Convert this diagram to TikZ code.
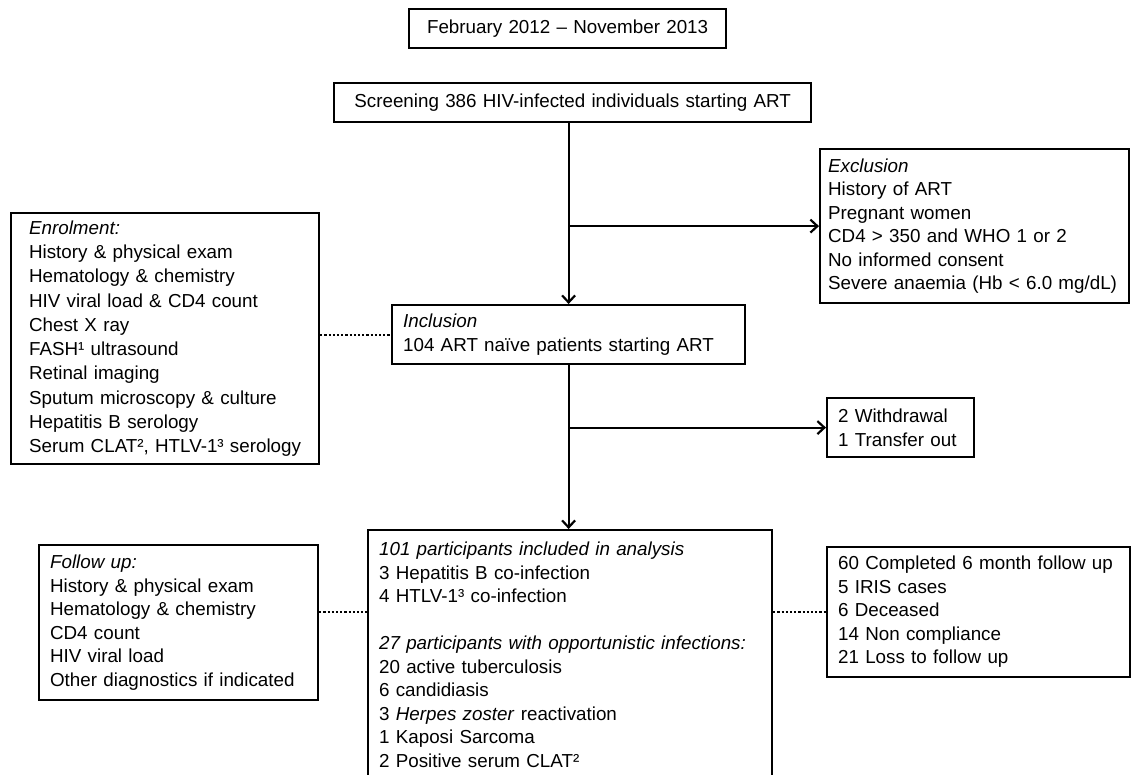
\documentclass[tikz,border=0pt]{standalone}
\usepackage{fontspec}
\setmainfont{Liberation Sans}
\usetikzlibrary{arrows.meta}
\begin{document}
\begin{tikzpicture}[x=1pt, y=-1pt, line width=2.2pt, >={Straight Barb[length=7pt,width=13pt]},
  every node/.style={font=\fontsize{18.8}{23.5}\selectfont},
  box/.style={draw, anchor=north west, align=left, inner xsep=11pt, inner ysep=0pt},
  link/.style={dotted}]
\useasboundingbox (0,0) rectangle (1132,774);
% Draw boxes
\node[box, align=center, text width=295pt, minimum height=39pt] (period) at (408,8) {February 2012 – November 2013};
\node[box, align=center, text width=455pt, minimum height=39pt] (screening) at (333,82) {Screening 386 HIV-infected individuals starting ART};
\node[box, inner xsep=8pt, text width=293pt, minimum height=154pt] (exclusion) at (819,148) {\textit{Exclusion}\\ History of ART\\ Pregnant women\\ CD4 > 350 and WHO 1 or 2\\ No informed consent\\ Severe anaemia (Hb < 6.0 mg/dL)};
\node[box, inner xsep=18pt, text width=272pt, minimum height=251pt, font=\fontsize{18.8}{24.3}\selectfont] (enrolment) at (10,212) {\textit{Enrolment:}\\ History \& physical exam\\ Hematology \& chemistry\\ HIV viral load \& CD4 count\\ Chest X ray\\ FASH¹ ultrasound\\ Retinal imaging\\ Sputum microscopy \& culture\\ Hepatitis B serology\\ Serum CLAT², HTLV-1³ serology};
\node[box, text width=331pt, minimum height=59pt] (inclusion) at (391,304) {\textit{Inclusion}\\ 104 ART naïve patients starting ART};
\node[box, text width=125pt, minimum height=59pt] (withdrawal) at (826,397) {2 Withdrawal\\ 1 Transfer out};
\node[box, inner ysep=12pt, text width=382pt] (results) at (367,529) {\textit{101 participants included in analysis}\\ 3 Hepatitis B co-infection\\ 4 HTLV-1³ co-infection\\[23.5pt] \textit{27 participants with opportunistic infections:}\\ 20 active tuberculosis\\ 6 candidiasis\\ 3 \textit{Herpes zoster} reactivation\\ 1 Kaposi Sarcoma\\ 2 Positive serum CLAT²};
\node[box, text width=257pt, minimum height=155pt] (followup) at (38,544) {\textit{Follow up:}\\ History \& physical exam\\ Hematology \& chemistry\\ CD4 count\\ HIV viral load\\ Other diagnostics if indicated};
\node[box, text width=281pt, minimum height=130pt] (outcome) at (826,546) {60 Completed 6 month follow up\\ 5 IRIS cases\\ 6 Deceased\\ 14 Non compliance\\ 21 Loss to follow up};
% Draw arrows
\draw[->] (screening.south -| inclusion.north) -- (inclusion.north);
\draw[->] (exclusion.west -| inclusion.north) -- (exclusion.west);
\draw[->] (inclusion.south) -- (inclusion.south |- results.north);
\draw[->] (withdrawal.west -| inclusion.south) -- (withdrawal.west);
% Draw dotted links
\draw[link] (enrolment.east |- inclusion.west) -- (inclusion.west);
\draw[link] (followup.east |- outcome.west) -- (outcome.west -| results.west);
\draw[link] (outcome.west -| results.east) -- (outcome.west);
\end{tikzpicture}
\end{document}
